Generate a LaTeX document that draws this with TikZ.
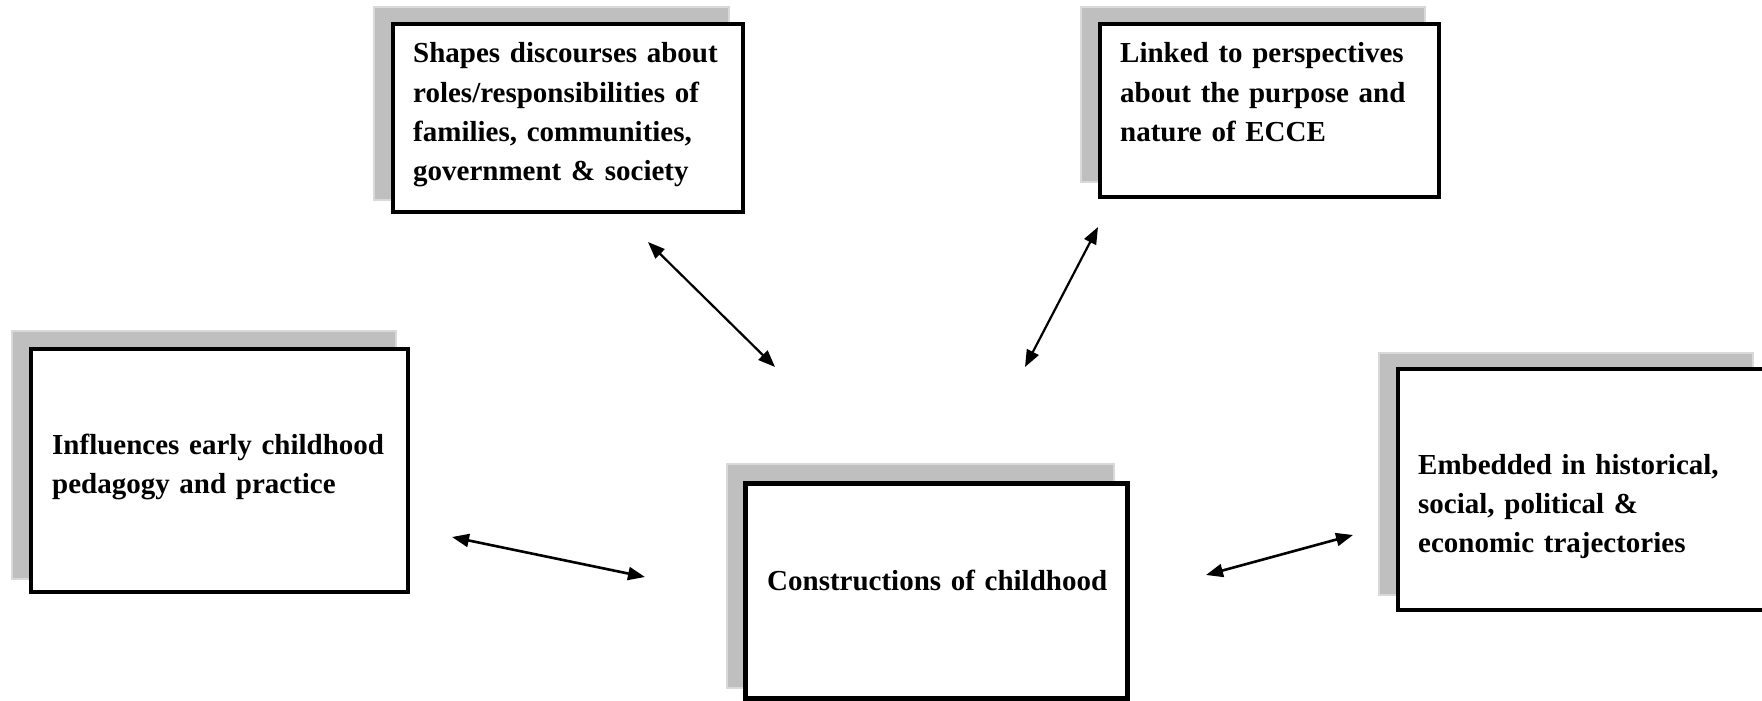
\documentclass[tikz,border=0pt]{standalone}
\usepackage{fontspec}
\setmainfont{Liberation Serif}
\usetikzlibrary{arrows.meta}
\hyphenpenalty=10000
\exhyphenpenalty=10000
\tikzset{
  shadowbox/.style={fill=black!25, draw=black!15, line width=1.5pt},
  mainbox/.style={fill=white, draw=black, line width=3.5pt},
  txt/.style={inner sep=0pt, anchor=base west, align=left, text width=420pt,
    font=\bfseries\fontsize{29}{39.3}\selectfont},
  link/.style={line width=2.2pt, {Triangle[length=17pt,width=13pt]}-{Triangle[length=17pt,width=13pt]}}
}
\begin{document}
\begin{tikzpicture}[x=1pt,y=-1pt]
\useasboundingbox (0,0) rectangle (1762,701);
\clip (0,0) rectangle (1762,701);
% box A
\draw[shadowbox] (374,7) rectangle (729,200);
\draw[mainbox] (393,24) rectangle (743,212);
\node[txt] (tA) at (413,63) {Shapes discourses about\\roles/responsibilities of\\families, communities,\\government \& society};
% box B
\draw[shadowbox] (1081,7) rectangle (1425,182);
\draw[mainbox] (1100,24) rectangle (1439,197);
\node[txt] (tB) at (1120,63) {Linked to perspectives\\about the purpose and\\nature of ECCE};
% box C
\draw[shadowbox] (12,331) rectangle (396,579);
\draw[mainbox] (31,349) rectangle (408,592);
\node[txt] (tC) at (52,454) {Influences early childhood\\pedagogy and practice};
% box D
\draw[shadowbox] (727,464) rectangle (1114,688);
\draw[mainbox, line width=5pt] (745,483) rectangle (1127,698);
\node[txt] (tD) at (767,590) {Constructions of childhood};
% box E
\draw[shadowbox] (1379,353) rectangle (1753,595);
\draw[mainbox, line width=4pt] (1398,369) rectangle (1785,610);
\node[txt] (tE) at (1418,474) {Embedded in historical,\\social, political \&\\economic trajectories};
% arrow ends
\coordinate (a1) at (648,242); \coordinate (a2) at (775,367);
\coordinate (b1) at (1098,227); \coordinate (b2) at (1025,367);
\coordinate (c1) at (452,537); \coordinate (c2) at (645,577);
\coordinate (e1) at (1206,575); \coordinate (e2) at (1353,535);
\draw[link] (a1) -- (a2);
\draw[link] (b1) -- (b2);
\draw[link, line width=2.6pt] (c1) -- (c2);
\draw[link, line width=2.6pt] (e1) -- (e2);
\end{tikzpicture}
\end{document}
